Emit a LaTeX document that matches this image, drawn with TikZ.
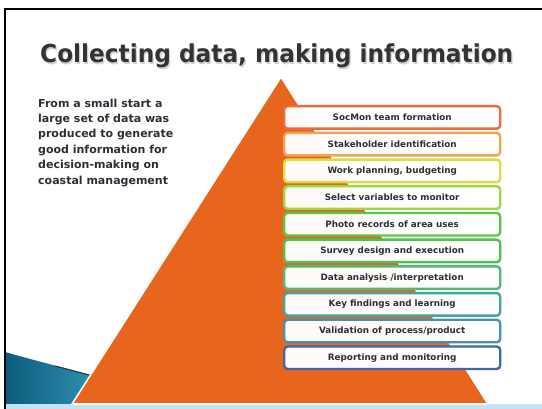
\documentclass[tikz,border=0pt]{standalone}
\usepackage{fontspec}
\setmainfont{DejaVu Sans}
\usepackage{graphicx}
\usetikzlibrary{shadings}
\definecolor{tri}{HTML}{E8651E}
\definecolor{txt}{HTML}{2E2E38}
\definecolor{ttl}{HTML}{333333}
\definecolor{c1}{HTML}{EF6A3A}
\definecolor{c2}{HTML}{EFA452}
\definecolor{c3}{HTML}{D6E03E}
\definecolor{c4}{HTML}{9AD846}
\definecolor{c5}{HTML}{58C842}
\definecolor{c6}{HTML}{4FC052}
\definecolor{c7}{HTML}{55B67A}
\definecolor{c8}{HTML}{3FA898}
\definecolor{c9}{HTML}{488FB0}
\definecolor{c10}{HTML}{3F66A6}
\definecolor{swdark}{HTML}{0B5C7C}
\definecolor{swlight}{HTML}{3FA3C3}
\definecolor{strip}{HTML}{C4E4F0}
\tikzset{
  stepbox/.style={draw=#1, line width=2.4pt, rounded corners=3.5pt, fill=white, fill opacity=0.97, text opacity=1,
    minimum width=216pt, minimum height=22.5pt, inner sep=0pt, anchor=north west,
    font=\fontsize{8.8}{10}\selectfont\bfseries, text=txt},
}
\begin{document}
\begin{tikzpicture}[x=1pt,y=-1pt]
\useasboundingbox (0,0) rectangle (542,409);
\fill[white] (0,0) rectangle (542,409);
% swoosh
\shade[left color=swdark, right color=swlight] (5,352) .. controls (40,362) and (80,372) .. (130,385) -- (130,409) -- (5,409) -- cycle;
\draw[black!80, line width=1pt] (55,366) .. controls (75,371) and (85,374) .. (100,378);
% bottom strip
\fill[strip] (5,404) rectangle (542,409);
% triangle
\filldraw[fill=tri, draw=white, line width=1.5pt] (281,77) coordinate (apex) -- (488,404) coordinate (br) -- (72,404) coordinate (bl) -- cycle;
% frame
\draw[black, line width=2pt] (5,409) -- (5,9) -- (542,9);
% title
\node[anchor=base west, text=black!18, inner sep=0pt] (titleshadow) at (41.2,64.2) {\resizebox{473pt}{\height}{\fontsize{24.7}{28}\selectfont\bfseries Collecting data, making information}};
\node[anchor=base west, text=ttl, inner sep=0pt] (title) at (40,63) {\resizebox{473pt}{\height}{\fontsize{24.7}{28}\selectfont\bfseries Collecting data, making information}};
% body text
\node[anchor=north west, align=left, inner sep=0pt, text=txt, font=\fontsize{11}{15.4}\selectfont\bfseries] (body) at (38,98.5)
 {From a small start a\\large set of data was\\produced to generate\\good information for\\decision-making on\\coastal management};
% boxes
\node[stepbox=c1] (b1) at (283,105.0) {SocMon team formation};
\node[stepbox=c2] (b2) at (283,131.7) {Stakeholder identification};
\node[stepbox=c3] (b3) at (283,158.4) {Work planning, budgeting};
\node[stepbox=c4] (b4) at (283,185.1) {Select variables to monitor};
\node[stepbox=c5] (b5) at (283,211.8) {Photo records of area uses};
\node[stepbox=c6] (b6) at (283,238.5) {Survey design and execution};
\node[stepbox=c7] (b7) at (283,265.2) {Data analysis /interpretation};
\node[stepbox=c8] (b8) at (283,291.9) {Key findings and learning};
\node[stepbox=c9] (b9) at (283,318.6) {Validation of process/product};
\node[stepbox=c10] (b10) at (283,345.3) {Reporting and monitoring};
\end{tikzpicture}
\end{document}
